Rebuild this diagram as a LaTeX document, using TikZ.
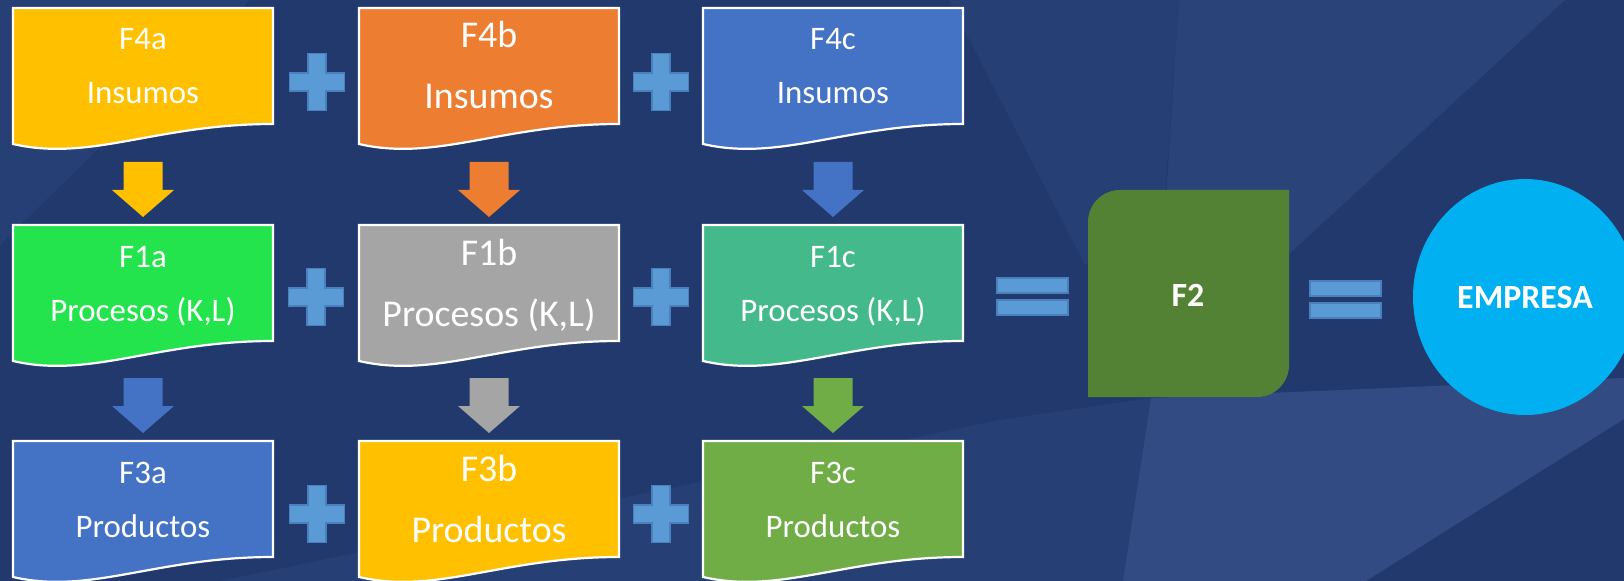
\documentclass[tikz,border=0pt]{standalone}
\usepackage{fontspec}
\setmainfont{Carlito}
\definecolor{bgbase}{RGB}{33,57,108}
\definecolor{bgmid}{RGB}{38,63,117}
\definecolor{bglight}{RGB}{42,68,122}
\definecolor{bgband}{RGB}{50,76,131}
\definecolor{cyellow}{RGB}{255,192,0}
\definecolor{corange}{RGB}{237,125,49}
\definecolor{cblue}{RGB}{68,114,196}
\definecolor{cgreen}{RGB}{35,228,77}
\definecolor{cgray}{RGB}{165,165,165}
\definecolor{cteal}{RGB}{68,186,140}
\definecolor{colive}{RGB}{112,173,71}
\definecolor{cplus}{RGB}{91,155,213}
\definecolor{cplusedge}{RGB}{74,128,190}
\definecolor{cftwo}{RGB}{84,130,53}
\definecolor{cempresa}{RGB}{0,176,240}
\tikzset{
  docbox/.style={draw=white, line width=2.2bp},
  lbl/.style={text=white, inner sep=0pt, anchor=base},
  smallfont/.style={font=\fontsize{33}{36}\selectfont},
  bigfont/.style={font=\fontsize{38}{42}\selectfont},
  boldlbl/.style={text=white, inner sep=0pt, font=\fontsize{34}{38}\selectfont\bfseries},
  opsign/.style={fill=cplus, draw=cplusedge, line width=1.2bp},
}
% #1 name, #2 x0, #3 y0, #4 fill, #5 line1, #6 line2, #7 big?(0/1)
\newcommand\DocShape[7]{%
  \path[docbox, fill=#4] ({#2},{#3}) -- ({#2+260},{#3}) -- ({#2+260},{#3+116})
    .. controls ({#2+143},{#3+116}) and ({#2+78},{#3+154}) .. ({#2},{#3+136}) -- cycle;
  \ifnum#7=1
    \node[lbl, bigfont] (#1-a) at ({#2+130},{#3+40}) {#5};
    \node[lbl, bigfont] (#1-b) at ({#2+130},{#3+101}) {#6};
  \else
    \node[lbl, smallfont] (#1-a) at ({#2+130},{#3+42}) {#5};
    \node[lbl, smallfont] (#1-b) at ({#2+130},{#3+96}) {#6};
  \fi
}
% block arrow: #1 cx, #2 ytop, #3 colour
\newcommand\BlockArrow[3]{%
  \fill[#3] ({#1-19.5},{#2}) -- ({#1+19.5},{#2}) -- ({#1+19.5},{#2+28}) -- ({#1+31},{#2+28})
    -- ({#1},{#2+55}) -- ({#1-31},{#2+28}) -- ({#1-19.5},{#2+28}) -- cycle;
}
% plus sign: #1 cx, #2 cy
\newcommand\PlusSign[2]{%
  \path[opsign] ({#1-9},{#2-28.5}) -- ({#1+9},{#2-28.5}) -- ({#1+9},{#2-9}) -- ({#1+27.5},{#2-9})
    -- ({#1+27.5},{#2+9}) -- ({#1+9},{#2+9}) -- ({#1+9},{#2+28.5}) -- ({#1-9},{#2+28.5})
    -- ({#1-9},{#2+9}) -- ({#1-27.5},{#2+9}) -- ({#1-27.5},{#2-9}) -- ({#1-9},{#2-9}) -- cycle;
}
% equals sign: #1 x0, #2 ytop
\newcommand\EqSign[2]{%
  \path[opsign] ({#1},{#2}) rectangle ({#1+71},{#2+15});
  \path[opsign] ({#1},{#2+22}) rectangle ({#1+71},{#2+37});
}
\begin{document}
\begin{tikzpicture}[x=1bp,y=-1bp]
\useasboundingbox (0,0) rectangle (1624,581);
% background
\fill[bgbase] (0,0) rectangle (1624,581);
\fill[bgmid] (0,0) -- (250,0) -- (0,245) -- cycle;
\fill[bgmid] (949,0) -- (1179,0) -- (1165,200) -- (1085,265) -- cycle;
\fill[bglight] (1179,0) -- (1565,0) -- (1250,290) -- (1160,290) -- cycle;
\fill[bgmid] (220,581) -- (1000,420) -- (1151,398) -- (1123,581) -- cycle;
\fill[bgband] (1151,398) -- (1624,378) -- (1624,419) -- (1366,581) -- (1123,581) -- cycle;

% row 1
\DocShape{f4a}{13}{8}{cyellow}{F4a}{Insumos}{0}
\DocShape{f4b}{359}{8}{corange}{F4b}{Insumos}{1}
\DocShape{f4c}{703}{8}{cblue}{F4c}{Insumos}{0}
% row 2
\DocShape{f1a}{13}{225}{cgreen}{F1a}{Procesos (K,L)}{0}
\DocShape{f1b}{359}{225}{cgray}{F1b}{Procesos (K,L)}{1}
\DocShape{f1c}{703}{225}{cteal}{F1c}{Procesos (K,L)}{0}
% row 3
\DocShape{f3a}{13}{441}{cblue}{F3a}{Productos}{0}
\DocShape{f3b}{359}{441}{cyellow}{F3b}{Productos}{1}
\DocShape{f3c}{703}{441}{colive}{F3c}{Productos}{0}

% arrows
\BlockArrow{143}{162}{cyellow}
\BlockArrow{489}{162}{corange}
\BlockArrow{833}{162}{cblue}
\BlockArrow{143}{378}{cblue}
\BlockArrow{489}{378}{cgray}
\BlockArrow{833}{378}{colive}

% plus signs
\PlusSign{317}{82}
\PlusSign{661}{82}
\PlusSign{316}{297}
\PlusSign{661}{297}
\PlusSign{317}{514}
\PlusSign{661}{514}

% equals
\EqSign{997}{278}
\EqSign{1310}{281}

% F2
\fill[cftwo] (1088,397) -- (1088,222) .. controls (1088,204.3) and (1102.3,190) .. (1120,190)
  -- (1289,190) -- (1289,365) .. controls (1289,382.7) and (1274.7,397) .. (1257,397) -- cycle;
\node[boldlbl] (f2) at (1188,295) {F2};

% EMPRESA
\fill[cempresa] (1525,297) ellipse [x radius=112, y radius=118];
\node[boldlbl] (empresa) at (1525,298) {EMPRESA};
\end{tikzpicture}
\end{document}
